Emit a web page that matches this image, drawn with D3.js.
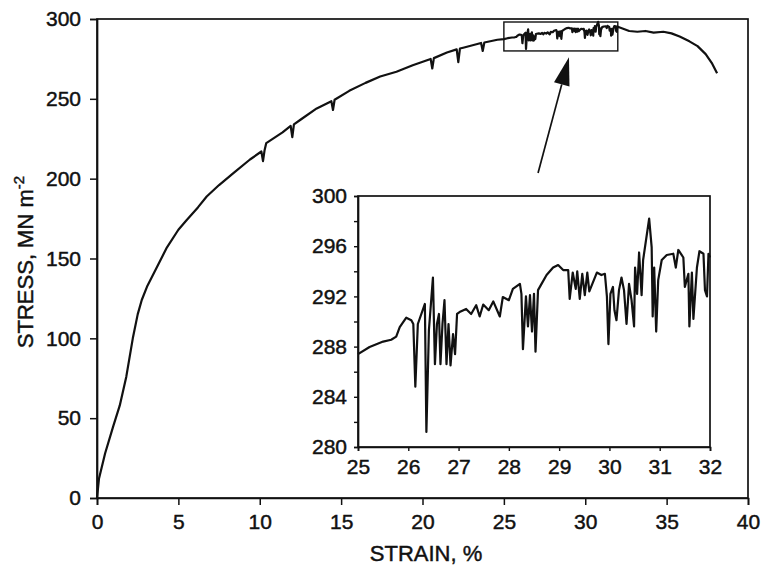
<!DOCTYPE html>
<html><head><meta charset="utf-8">
<script src="https://cdn.jsdelivr.net/npm/d3@7"></script>
<style>
html,body{margin:0;padding:0;background:#fff;}
svg{display:block;}
text{font-family:"Liberation Sans",Arial,Helvetica,sans-serif;fill:#111;}
</style></head>
<body>
<svg id="chart" width="762" height="566"></svg>
<script>
// ---------- DATA ----------
// main curve, strain % (below the inset window)
const mainStrainLow = [0,0.12,0.5,1.0,1.4,1.8,2.2,2.5,2.75,3.1,3.6,4.3,5.0,5.5,6.2,6.74,7.5,8.38,9.4,10.1,10.2,10.3,10.4,11.4,11.9,12.0,12.1,12.5,13.5,14.4,14.5,14.6,15.5,16.5,17.4,18.4,19.4,20.5,20.6,20.7,21.5,22.1,22.2,22.3,22.5,23.6,23.7,23.8,24.6];
const mainStressLow = [0,12,28,45,58,76,100,115,124,133,143,157,168,174,182,188.8,196,203.5,212,217,211,218,222.3,229,233,226,234,236.9,244,248.5,243,249.4,255,260,264,267,271,275,269,275.5,279,281,273,281.5,282,285,280,285.3,287];
// main curve after the inset window
const mainStrainHigh = [32.7,33.2,33.7,34.2,34.8,35.3,35.8,36.4,36.9,37.4,37.8,38.1];
const mainStressHigh = [292.5,292,292.5,291.5,292,291,289,286,283,278,272,266];
// inset: serrated flow 25-32 % strain
const insetStrain = [25,25.23,25.5,25.66,25.76,25.83,25.96,26.06,26.1,26.14,26.19,26.33,26.36,26.41,26.49,26.53,26.57,26.61,26.64,26.68,26.72,26.76,26.8,26.84,26.89,26.93,26.97,27.02,27.15,27.25,27.35,27.42,27.49,27.6,27.69,27.82,27.88,28.0,28.08,28.22,28.25,28.28,28.34,28.38,28.42,28.46,28.5,28.53,28.58,28.65,28.75,28.88,28.98,29.08,29.18,29.21,29.27,29.33,29.36,29.41,29.46,29.51,29.56,29.6,29.65,29.75,29.84,29.91,29.95,29.98,30.02,30.07,30.1,30.14,30.19,30.24,30.29,30.34,30.39,30.44,30.49,30.51,30.55,30.59,30.64,30.67,30.79,30.84,30.86,30.89,30.93,30.97,31.04,31.14,31.27,31.32,31.37,31.47,31.5,31.57,31.59,31.64,31.67,31.74,31.79,31.87,31.9,31.94,31.97,32.0];
const insetStress = [287.4,287.97,288.4,288.55,288.8,289.56,290.3,290.1,289.8,284.8,289.8,291.4,281.2,289.3,293.5,286.6,289.8,290.6,286.6,289.8,291.7,286.6,289.8,286.5,289.0,287.4,290.6,290.75,291.0,290.6,291.3,290.4,291.35,290.9,291.6,290.4,291.95,291.7,292.6,293.0,292.2,287.8,292.0,289.6,292.1,289.2,292.2,287.6,292.5,293.0,293.7,294.3,294.5,294.1,294.1,291.8,293.9,292.6,294.0,291.8,293.8,292.1,293.9,292.4,292.9,293.9,293.7,293.8,292.0,288.2,292.2,292.75,290.9,290.1,292.5,293.5,292.5,289.8,293.0,291.7,289.6,294.3,292.2,295.5,292.1,294.9,298.2,295.9,290.4,294.3,289.2,293.3,294.9,295.3,295.4,294.3,295.7,295.1,292.75,293.8,289.6,293.9,290.2,294.3,295.6,295.4,292.5,292.0,295.4,295.1];
// axes ticks
const mainXTicks = [0,5,10,15,20,25,30,35,40];
const mainYTicks = [0,50,100,150,200,250,300];
const insetXTicks = [25,26,27,28,29,30,31,32];
const insetYTicks = [280,282,284,286,288,290,292,294,296,298,300];
const insetYLabels = [280,284,288,292,296,300];
// zoom window & arrow (data coords of main chart)
const zoomWindow = {x0:25, x1:32, y0:280, y1:300};
const arrowFrom = [27.1, 203.5], arrowTo = [29.0, 276];

// ---------- DRAW ----------
const svg = d3.select("#chart");
const M = {l:97, r:748, t:19, b:498};
const x = d3.scaleLinear().domain([0,40]).range([M.l, M.r]);
const y = d3.scaleLinear().domain([0,300]).range([M.b, M.t]);

const mainData = [];
mainStrainLow.forEach((s,i)=>mainData.push([s, mainStressLow[i]]));
insetStrain.forEach((s,i)=>mainData.push([s, insetStress[i]]));
mainStrainHigh.forEach((s,i)=>mainData.push([s, mainStressHigh[i]]));

const ink = "#111";
const styleText = sel => sel.attr("fill",ink).attr("stroke",ink).attr("stroke-width",0.45);
// frame
svg.append("rect").attr("x",M.l).attr("y",M.t).attr("width",M.r-M.l).attr("height",M.b-M.t)
  .attr("fill","none").attr("stroke",ink).attr("stroke-width",1.7);

const xAxis = svg.append("g").attr("transform",`translate(0,${M.b})`)
  .call(d3.axisBottom(x).tickValues(mainXTicks).tickSize(7).tickPadding(9).tickFormat(d3.format("d")));
const yAxis = svg.append("g").attr("transform",`translate(${M.l},0)`)
  .call(d3.axisLeft(y).tickValues(mainYTicks).tickSize(7).tickPadding(9).tickFormat(d3.format("d")));
[xAxis,yAxis].forEach(g=>{
  g.select(".domain").attr("stroke",ink).attr("stroke-width",1.7);
  g.selectAll(".tick line").attr("stroke",ink).attr("stroke-width",1.5);
  g.selectAll(".tick text").attr("font-size",21).call(styleText);
});

const line = d3.line().x(d=>x(d[0])).y(d=>y(d[1]));
svg.append("path").datum(mainData).attr("d",line).attr("fill","none")
  .attr("stroke",ink).attr("stroke-width",2.2).attr("stroke-linejoin","round");

// zoom window rectangle
svg.append("rect").attr("x",x(zoomWindow.x0)).attr("y",y(zoomWindow.y1)+3)
  .attr("width",x(zoomWindow.x1)-x(zoomWindow.x0)).attr("height",y(zoomWindow.y0)-y(zoomWindow.y1)-3)
  .attr("fill","none").attr("stroke",ink).attr("stroke-width",1.4);

// arrow
const ax0 = x(arrowFrom[0]), ay0 = y(arrowFrom[1]), ax1 = x(arrowTo[0]), ay1 = y(arrowTo[1]);
const ang = Math.atan2(ay1-ay0, ax1-ax0);
const hl = 28, hw = 8;
const bx = ax1 - hl*Math.cos(ang), by = ay1 - hl*Math.sin(ang);
svg.append("line").attr("x1",ax0).attr("y1",ay0).attr("x2",bx).attr("y2",by)
  .attr("stroke",ink).attr("stroke-width",1.7);
svg.append("path").attr("d",`M${ax1},${ay1}L${bx+hw*Math.sin(ang)},${by-hw*Math.cos(ang)}L${bx-hw*Math.sin(ang)},${by+hw*Math.cos(ang)}Z`)
  .attr("fill",ink);

// axis titles
svg.append("text").attr("x",426).attr("y",561).attr("text-anchor","middle")
  .attr("font-size",22).call(styleText).text("STRAIN, %");
const yt = svg.append("text").attr("transform","translate(33,262) rotate(-90)").attr("text-anchor","middle")
  .attr("font-size",22).call(styleText);
yt.append("tspan").text("STRESS, MN m");
yt.append("tspan").attr("dy",-9).attr("font-size",15).text("-2");

// ---------- INSET ----------
const I = {l:358, r:710, t:196, b:447};
const xi = d3.scaleLinear().domain([25,32]).range([I.l, I.r]);
const yi = d3.scaleLinear().domain([280,300]).range([I.b, I.t]);
svg.append("rect").attr("x",I.l).attr("y",I.t).attr("width",I.r-I.l).attr("height",I.b-I.t)
  .attr("fill","#fff").attr("stroke",ink).attr("stroke-width",1.7);
const xia = svg.append("g").attr("transform",`translate(0,${I.b})`)
  .call(d3.axisBottom(xi).tickValues(insetXTicks).tickSize(4).tickPadding(8).tickFormat(d3.format("d")));
const yia = svg.append("g").attr("transform",`translate(${I.l},0)`)
  .call(d3.axisLeft(yi).tickValues(insetYTicks).tickSize(4).tickPadding(7)
    .tickFormat(d=>insetYLabels.includes(d)?d3.format("d")(d):""));
[xia,yia].forEach(g=>{
  g.select(".domain").attr("stroke",ink).attr("stroke-width",1.7);
  g.selectAll(".tick line").attr("stroke",ink).attr("stroke-width",1.4);
  g.selectAll(".tick text").attr("font-size",21).call(styleText);
});
const insetData = insetStrain.map((s,i)=>[s, insetStress[i]]);
svg.append("path").datum(insetData)
  .attr("d",d3.line().x(d=>xi(d[0])).y(d=>yi(d[1])))
  .attr("fill","none").attr("stroke",ink).attr("stroke-width",2.2).attr("stroke-linejoin","round");
</script>
</body></html>
